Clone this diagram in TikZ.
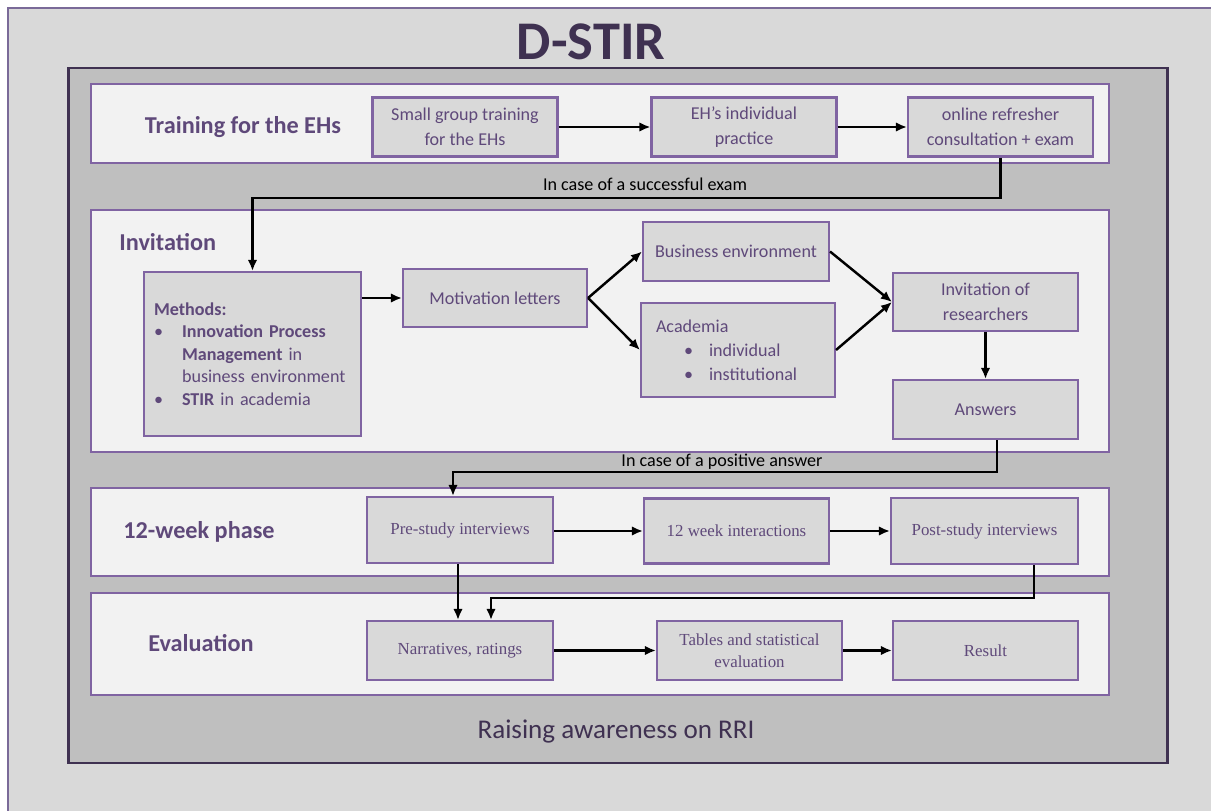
\documentclass[tikz,border=0pt]{standalone}
\usepackage{fontspec}
\setmainfont{Carlito}
\newfontfamily\serifboxfont{Liberation Serif}
\usetikzlibrary{arrows.meta,positioning}

\definecolor{textpurple}{HTML}{5F497A}
\definecolor{darkpurple}{HTML}{3F3151}
\definecolor{boxpurple}{HTML}{8064A2}
\definecolor{outerline}{HTML}{7A6A98}
\definecolor{panelgray}{HTML}{F2F2F2}
\definecolor{boxgray}{HTML}{D9D9D9}
\definecolor{framegray}{HTML}{BFBFBF}
\definecolor{outergray}{HTML}{D9D9D9}

\begin{document}
\begin{tikzpicture}[x=0.02cm, y=-0.02cm]
    % Styles
    \tikzstyle{panel} = [rectangle, draw=boxpurple, line width=1.2pt, fill=panelgray,
        minimum width=20.36cm, inner sep=0pt]
    \tikzstyle{stepbox} = [rectangle, draw=boxpurple, line width=1.2pt, fill=boxgray, text=textpurple,
        minimum width=3.7cm, minimum height=1.18cm, align=center, inner sep=0pt,
        font=\fontsize{10.3}{14}\selectfont]
    \tikzstyle{serifbox} = [stepbox, font=\serifboxfont\fontsize{9.6}{12.5}\selectfont]
    \tikzstyle{listbox} = [stepbox, align=left, inner xsep=0.2cm, font=\fontsize{10.3}{12.8}\selectfont]
    \tikzstyle{phaselabel} = [text=textpurple, font=\bfseries\fontsize{13.8}{16}\selectfont]
    \tikzstyle{condition} = [font=\fontsize{10.3}{12}\selectfont]
    \tikzstyle{arrow} = [line width=1.4pt, -{Latex[length=2.2mm,width=1.9mm]}]

    \useasboundingbox (0,0) rectangle (1211,811);
    \fill [white] (0,0) rectangle (1211,811);
    \draw [draw=outerline, line width=1.1pt, fill=outergray] (8,8) rectangle (1250,850);

    % === TITLE AND FRAME ===
    \node [text=darkpurple, font=\bfseries\fontsize{31}{34}\selectfont] (title) at (591,42) {D-STIR};
    \node [rectangle, draw=darkpurple, line width=1.6pt, fill=framegray,
        minimum width=22cm, minimum height=13.9cm] (frame) at (618,415.5) {};
    \node [text=darkpurple, font=\fontsize{15.4}{18}\selectfont] (rri) at (616,732) {Raising awareness on RRI};

    % === PANELS ===
    \node [panel, minimum height=1.58cm] (trainpanel) at (600,123.5) {};
    \node [panel, minimum height=4.84cm] (invpanel) at (600,331) {};
    \node [panel, minimum height=1.76cm] (weekpanel) at (600,532) {};
    \node [panel, minimum height=2.04cm] (evalpanel) at (600,644) {};

    \node [phaselabel] (trainlabel) at (243,127) {Training for the EHs};
    \node [phaselabel, anchor=west, inner xsep=0pt] (invlabel) at (119,242) {Invitation};
    \node [phaselabel] (weeklabel) at (199,532) {12-week phase};
    \node [phaselabel] (evallabel) at (201,643) {Evaluation};

    % === TRAINING ===
    \node [stepbox] (smallgroup) at (465,127) {Small group training\\for the EHs};
    \node [stepbox] (practice) at (744,127) {EH’s individual\\practice};
    \node [stepbox] (refresher) at (1000.5,127) {online refresher\\consultation + exam};

    % === INVITATION ===
    \node [listbox, minimum width=4.34cm, minimum height=3.28cm, text width=3.94cm] (methods) at (252.5,354) {%
        \textbf{Methods:}\\
        \makebox[0.56cm][l]{\textbullet}\textbf{Innovation Process}\\
        \hspace*{0.56cm}\textbf{Management} in\\
        \hspace*{0.56cm}business environment\\
        \makebox[0.56cm][l]{\textbullet}\textbf{STIR} in academia};
    \node [stepbox, minimum width=3.68cm, minimum height=1.16cm] (motivation) at (495,298) {Motivation letters};
    \node [stepbox, minimum width=3.72cm] (business) at (736,251.5) {Business environment};
    \node [listbox, minimum width=3.88cm, minimum height=1.88cm, inner xsep=0.3cm, text width=3.28cm,
        font=\fontsize{10.3}{13.6}\selectfont] (academia) at (738,350) {%
        Academia\\
        \hspace*{0.56cm}\makebox[0.5cm][l]{\textbullet}individual\\
        \hspace*{0.56cm}\makebox[0.5cm][l]{\textbullet}institutional};
    \node [stepbox, minimum height=1.16cm] (invitres) at (985.5,302) {Invitation of\\researchers};
    \node [stepbox] (answers) at (985.5,409.5) {Answers};

    % === 12-WEEK PHASE ===
    \node [serifbox, minimum width=3.72cm, minimum height=1.32cm] (prestudy) at (460,530) {Pre-study interviews};
    \node [serifbox, minimum height=1.30cm] (interact) at (736.5,531) {12 week interactions};
    \node [serifbox, minimum width=3.74cm, minimum height=1.32cm] (poststudy) at (984.5,531) {Post-study interviews};

    % === EVALUATION ===
    \node [serifbox, minimum width=3.72cm] (narratives) at (460,650.5) {Narratives, ratings};
    \node [serifbox] (tables) at (749.5,650.5) {Tables and statistical\\evaluation};
    \node [serifbox] (result) at (985.5,650.5) {Result};

    % === ARROWS: Rows ===
    \draw [arrow] (smallgroup) -- (practice);
    \draw [arrow] (practice) -- (refresher);
    \draw [arrow] (methods.east |- motivation.west) -- (motivation.west);
    \draw [arrow] (motivation.east) -- (business.west);
    \draw [arrow] (motivation.east) -- (academia.west);
    \draw [arrow] (business.east) -- (invitres.west);
    \draw [arrow] (academia.east) -- (invitres.west);
    \draw [arrow] (invitres) -- (answers);
    \draw [arrow] (prestudy.east |- interact.west) -- (interact.west);
    \draw [arrow] (interact) -- (poststudy);
    \draw [arrow] (narratives) -- (tables);
    \draw [arrow] (tables) -- (result);

    % === ARROWS: Between phases ===
    \coordinate (exambend) at (252.5,198);
    \draw [arrow] (refresher.south) |- (exambend) -- (methods.north);
    \node [condition] (examlabel) at (645,184) {In case of a successful exam};

    \coordinate (posA) at (997,472);
    \coordinate (posB) at (453,472);
    \draw [arrow] (answers.south -| posA) -- (posA) -- (posB) -- (posB |- prestudy.north);
    \node [condition] (answerlabel) at (722,462) {In case of a positive answer};

    \coordinate (postA) at (1034,598);
    \coordinate (postB) at (491,598);
    \draw [arrow] (prestudy.south -| 458,0) -- (458,0 |- narratives.north);
    \draw [arrow] (poststudy.south -| postA) -- (postA) -- (postB) -- (postB |- narratives.north);

\end{tikzpicture}
\end{document}
